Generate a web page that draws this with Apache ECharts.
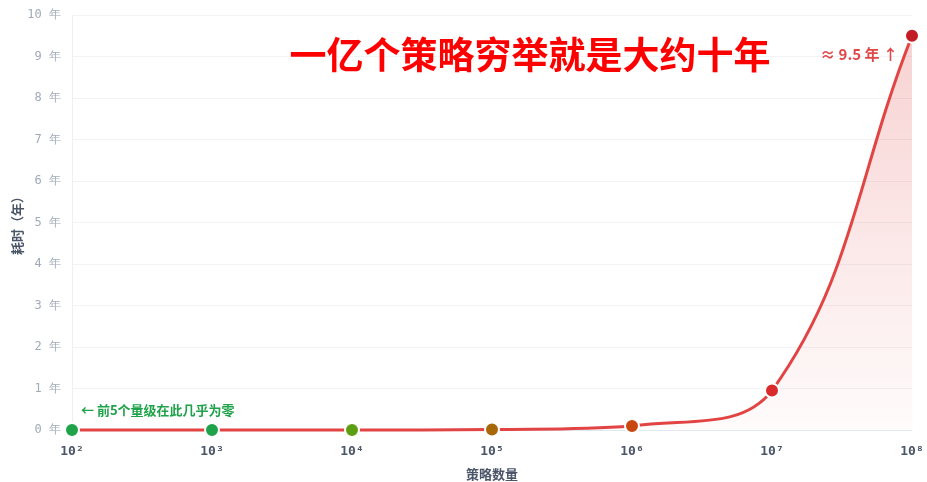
<!DOCTYPE html>
<html>
<head>
<meta charset="utf-8">
<script src="https://cdn.jsdelivr.net/npm/echarts@6/dist/echarts.min.js"></script>
<style>
  html, body { margin: 0; padding: 0; background: #ffffff; }
  #chart { width: 927px; height: 482px; }
</style>
</head>
<body>
<div id="chart"></div>
<script>
// Number of strategies (orders of magnitude)
const categories = ['10²', '10³', '10⁴', '10⁵', '10⁶', '10⁷', '10⁸'];
// Time required, in years
const years = [0.0000095, 0.000095, 0.00095, 0.0095, 0.095, 0.95, 9.5];
// Dot colour per magnitude, green through dark red
const dotColors = ['#1fa34a', '#1fa34a', '#5d9e12', '#a8680a', '#c9460f', '#d92b2b', '#c21d25'];
const yTicks = [0, 1, 2, 3, 4, 5, 6, 7, 8, 9, 10];

const TENSION = 0.4;
const LINE_COLOR = '#e24444';

const chart = echarts.init(document.getElementById('chart'));

// Cardinal-style spline through the projected points; control points are
// kept inside the plotting rectangle.
function splinePath(pts, rect) {
  const clampX = x => Math.min(Math.max(x, rect.x), rect.x + rect.width);
  const clampY = y => Math.min(Math.max(y, rect.y), rect.y + rect.height);
  const cps = pts.map((cur, i) => {
    const prev = pts[i - 1] || cur;
    const next = pts[i + 1] || cur;
    const d01 = Math.hypot(cur[0] - prev[0], cur[1] - prev[1]);
    const d12 = Math.hypot(next[0] - cur[0], next[1] - cur[1]);
    let s01 = d01 / (d01 + d12);
    let s12 = d12 / (d01 + d12);
    if (!isFinite(s01)) s01 = 0;
    if (!isFinite(s12)) s12 = 0;
    const fa = TENSION * s01;
    const fb = TENSION * s12;
    return {
      prev: [clampX(cur[0] - fa * (next[0] - prev[0])), clampY(cur[1] - fa * (next[1] - prev[1]))],
      next: [clampX(cur[0] + fb * (next[0] - prev[0])), clampY(cur[1] + fb * (next[1] - prev[1]))]
    };
  });
  let d = 'M' + pts[0][0] + ' ' + pts[0][1];
  for (let i = 1; i < pts.length; i++) {
    const c1 = cps[i - 1].next;
    const c2 = cps[i].prev;
    d += ' C' + c1[0] + ' ' + c1[1] + ' ' + c2[0] + ' ' + c2[1] + ' ' + pts[i][0] + ' ' + pts[i][1];
  }
  return d;
}

function renderCurve(params, api) {
  if (params.dataIndex !== 0) return null;
  const rect = params.coordSys;
  const pts = years.map((v, i) => api.coord([i, v]));
  const line = splinePath(pts, rect);
  const base = api.coord([0, 0])[1];
  const area = line + ' L' + pts[pts.length - 1][0] + ' ' + base + ' L' + pts[0][0] + ' ' + base + ' Z';
  return {
    type: 'group',
    children: [
      {
        type: 'path',
        shape: { pathData: area },
        style: {
          fill: new echarts.graphic.LinearGradient(0, 0, 0, 1, [
            { offset: 0, color: 'rgba(226, 68, 68, 0.24)' },
            { offset: 1, color: 'rgba(226, 68, 68, 0.02)' }
          ]),
          stroke: null
        },
        silent: true
      },
      {
        type: 'path',
        shape: { pathData: line },
        style: { fill: null, stroke: LINE_COLOR, lineWidth: 3, lineCap: 'round', lineJoin: 'round' },
        silent: true
      }
    ]
  };
}

const markerData = years.map((v, i) => {
  const item = { value: [i, v], itemStyle: { color: dotColors[i] } };
  if (i === 0) {
    item.label = {
      show: true,
      formatter: '← 前5个量级在此几乎为零',
      position: [17, -12],
      align: 'left',
      verticalAlign: 'middle',
      color: '#1fa34a',
      fontWeight: 'bold',
      fontSize: 13,
      fontFamily: 'Noto Sans CJK SC'
    };
  }
  if (i === years.length - 1) {
    item.label = {
      show: true,
      formatter: '≈ ' + v + ' 年 ↑',
      position: [-6, 27],
      align: 'right',
      verticalAlign: 'middle',
      color: '#e04848',
      fontWeight: 'bold',
      fontSize: 15,
      fontFamily: 'Noto Sans CJK SC'
    };
  }
  return item;
});

chart.setOption({
  animation: false,
  backgroundColor: '#ffffff',
  title: {
    text: '一亿个策略穷举就是大约十年',
    left: 525,
    top: 31,
    textAlign: 'center',
    textStyle: {
      color: '#ff0000',
      fontSize: 37,
      fontWeight: 'bold',
      fontFamily: 'Noto Sans CJK SC'
    }
  },
  grid: { left: 72, right: 15, top: 15, bottom: 52, containLabel: false, outerBoundsMode: 'none' },
  xAxis: {
    type: 'category',
    data: categories,
    boundaryGap: false,
    name: '策略数量',
    nameLocation: 'middle',
    nameGap: 38,
    nameMoveOverlap: false,
    nameTextStyle: { color: '#4a5568', fontSize: 13, fontWeight: 'bold', fontFamily: 'Noto Sans CJK SC' },
    axisLine: { show: true, lineStyle: { color: '#e2e8f0', width: 1 } },
    axisTick: { show: false },
    axisLabel: {
      margin: 15,
      color: '#4a5568',
      fontSize: 13,
      fontWeight: 'bold',
      fontFamily: 'DejaVu Sans Mono'
    },
    splitLine: { show: false }
  },
  yAxis: {
    type: 'value',
    min: 0,
    max: 10,
    interval: 1,
    name: '耗时（年）',
    nameLocation: 'middle',
    nameGap: 48,
    nameMoveOverlap: false,
    nameRotate: 90,
    nameTextStyle: { color: '#4a5568', fontSize: 13, fontWeight: 'bold', fontFamily: 'Noto Sans CJK SC' },
    axisLine: { show: true, lineStyle: { color: '#edf0f4' } },
    axisTick: { show: false },
    axisLabel: {
      margin: 11,
      color: '#a0aab8',
      fontSize: 12,
      fontFamily: 'DejaVu Sans Mono',
      formatter: v => (yTicks.includes(v) ? v + ' 年' : '')
    },
    splitLine: { show: true, lineStyle: { color: '#f1f3f6', width: 1 } }
  },
  series: [
    {
      type: 'custom',
      renderItem: renderCurve,
      data: years.map((v, i) => [i, v]),
      clip: false,
      z: 2
    },
    {
      type: 'scatter',
      data: markerData,
      symbol: 'circle',
      symbolSize: 14,
      itemStyle: { borderColor: '#ffffff', borderWidth: 2, opacity: 1 },
      z: 3
    }
  ]
});
</script>
</body>
</html>
